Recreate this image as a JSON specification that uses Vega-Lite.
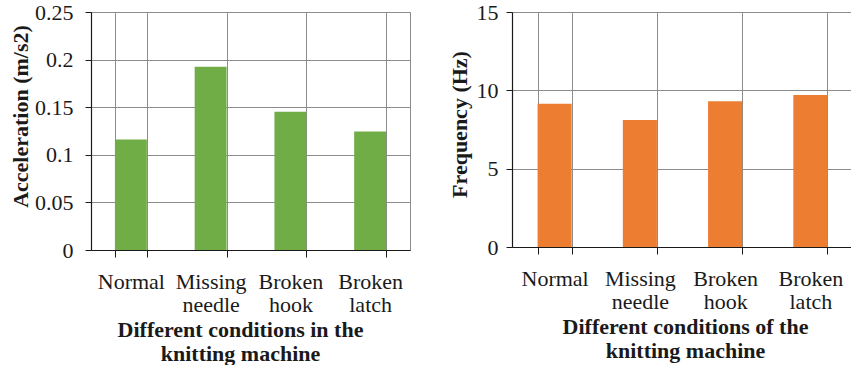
{
  "$schema": "https://vega.github.io/schema/vega-lite/v6.json",
  "padding": {"left": 9, "top": 0, "right": 0, "bottom": 0},
  "spacing": 36,
  "datasets": {
    "machine": [
      {"condition": "Normal", "acceleration": 0.116, "frequency": 9.15},
      {"condition": "Missing needle", "acceleration": 0.1925, "frequency": 8.11},
      {"condition": "Broken hook", "acceleration": 0.1453, "frequency": 9.3},
      {"condition": "Broken latch", "acceleration": 0.1246, "frequency": 9.7}
    ]
  },
  "config": {
    "font": "Liberation Serif",
    "view": {"stroke": "#8c8c8c", "strokeWidth": 1},
    "axis": {
      "labelFont": "Liberation Serif",
      "labelFontSize": 22,
      "labelColor": "#1a1a1a",
      "labelLineHeight": 23,
      "titleFont": "Liberation Serif",
      "titleFontSize": 22,
      "titleFontWeight": "bold",
      "titleColor": "#1a1a1a",
      "titleLineHeight": 24,
      "domainColor": "#1a1a1a",
      "domainWidth": 1.2,
      "tickColor": "#1a1a1a",
      "gridColor": "#8c8c8c",
      "gridWidth": 1,
      "labelLimit": 300
    }
  },
  "hconcat": [
    {
      "width": 319,
      "height": 238,
      "data": {"name": "machine"},
      "mark": {"type": "bar", "color": "#70AD47"},
      "encoding": {
        "x": {
          "field": "condition",
          "type": "nominal",
          "sort": null,
          "scale": {"paddingInner": 0.6, "paddingOuter": 0.3},
          "axis": {
            "title": ["Different conditions in the", "knitting machine"],
            "titleX": 149,
            "titlePadding": 4,
            "labelAngle": 0,
            "labelExpr": "split(datum.label, ' ')",
            "labelPadding": 14,
            "tickBand": "extent",
            "tickSize": 7,
            "grid": true
          }
        },
        "y": {
          "field": "acceleration",
          "type": "quantitative",
          "scale": {"domain": [0, 0.25]},
          "axis": {
            "title": "Acceleration (m/s2)",
            "titleY": 104,
            "values": [0, 0.05, 0.1, 0.15, 0.2, 0.25],
            "format": "~g",
            "tickSize": 6,
            "labelPadding": 12,
            "titlePadding": 2,
            "grid": true
          }
        }
      }
    },
    {
      "width": 341,
      "height": 235,
      "data": {"name": "machine"},
      "mark": {"type": "bar", "color": "#ED7D31"},
      "encoding": {
        "x": {
          "field": "condition",
          "type": "nominal",
          "sort": null,
          "scale": {"paddingInner": 0.6, "paddingOuter": 0.3},
          "axis": {
            "title": ["Different conditions of the", "knitting machine"],
            "titleX": 173,
            "titlePadding": 4,
            "labelAngle": 0,
            "labelExpr": "split(datum.label, ' ')",
            "labelPadding": 14,
            "tickBand": "extent",
            "tickSize": 7,
            "grid": true
          }
        },
        "y": {
          "field": "frequency",
          "type": "quantitative",
          "scale": {"domain": [0, 15]},
          "axis": {
            "title": "Frequency (Hz)",
            "titleY": 112,
            "values": [0, 5, 10, 15],
            "tickSize": 6,
            "labelPadding": 8,
            "titlePadding": 5,
            "grid": true
          }
        }
      }
    }
  ]
}
